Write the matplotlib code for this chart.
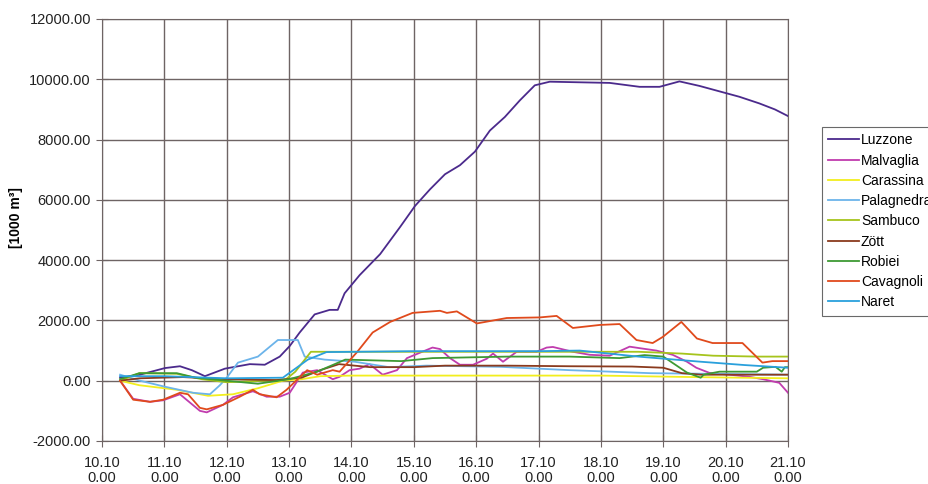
import matplotlib
matplotlib.use("Agg")
import matplotlib.pyplot as plt
import numpy as np

plt.rcParams['font.family'] = ['Liberation Sans', 'DejaVu Sans']

# ---- data (time in days since 10.10 0:00, values in 1000 m3) ----
tick_labels = ["10.10\n0.00", "11.10\n0.00", "12.10\n0.00", "13.10\n0.00", "14.10\n0.00",
               "15.10\n0.00", "16.10\n0.00", "17.10\n0.00", "18.10\n0.00", "19.10\n0.00",
               "20.10\n0.00", "21.10\n0.00"]

luzzone_t = [0.29, 0.61, 1.01, 1.25, 1.44, 1.65, 1.97, 2.37, 2.61, 2.85, 3.01, 3.17, 3.41, 3.65, 3.78,
             3.89, 4.13, 4.46, 4.78, 5.02, 5.26, 5.50, 5.74, 5.98, 6.22, 6.46, 6.70, 6.94, 7.18, 7.66,
             8.14, 8.62, 8.94, 9.26, 9.58, 9.90, 10.22, 10.54, 10.79, 11.0]
luzzone_v = [100, 200, 420, 480, 350, 150, 400, 550, 530, 800, 1150, 1600, 2200, 2350, 2350,
             2900, 3500, 4200, 5100, 5800, 6350, 6850, 7150, 7600, 8300, 8750, 9300, 9800, 9920, 9900,
             9880, 9750, 9750, 9930, 9780, 9600, 9420, 9200, 9000, 8780]

malvaglia_t = [0.29, 0.50, 0.77, 0.98, 1.25, 1.57, 1.68, 1.94, 2.10, 2.42, 2.64, 2.85, 3.01, 3.22, 3.45,
               3.70, 3.81, 3.97, 4.13, 4.29, 4.50, 4.73, 4.89, 5.10, 5.30, 5.42, 5.58, 5.74, 5.95,
               6.17, 6.27, 6.43, 6.65, 6.97, 7.13, 7.23, 7.55, 7.82, 8.14, 8.46, 8.62, 8.89, 9.15,
               9.38, 9.53, 9.74, 10.06, 10.38, 10.60, 10.86, 11.0]
malvaglia_v = [0, -600, -700, -650, -450, -1000, -1050, -800, -550, -350, -530, -530, -400, 270, 350,
               50, 130, 350, 400, 550, 200, 350, 750, 930, 1100, 1050, 750, 530, 530,
               730, 900, 630, 960, 960, 1100, 1120, 960, 860, 830, 1130, 1080, 1000, 860,
               630, 430, 260, 200, 130, 50, -70, -400]

carassina_t = [0.29, 0.6, 1.2, 1.7, 2.1, 2.5, 2.9, 3.2, 3.5, 4.0, 6.0, 8.0, 9.5, 11.0]
carassina_v = [0, -150, -300, -500, -450, -250, 0, 50, 150, 170, 170, 170, 120, 80]

palagnedra_t = [0.29, 0.61, 1.01, 1.46, 1.73, 1.89, 2.0, 2.18, 2.50, 2.82, 3.14, 3.25, 3.57, 4.05,
                4.6, 5.2, 6.4, 7.5, 8.8, 11.0]
palagnedra_v = [200, 0, -200, -400, -450, -150, 100, 600, 800, 1350, 1350, 800, 700, 630,
                450, 500, 460, 350, 250, 200]

sambuco_t = [0.29, 0.6, 1.2, 1.6, 2.0, 2.6, 2.95, 3.1, 3.35, 8.6, 9.3, 9.8, 10.5, 11.0]
sambuco_v = [0, 250, 230, 50, -50, 0, 50, 300, 960, 960, 900, 830, 800, 800]

zott_t = [0.29, 0.6, 1.3, 2.0, 2.8, 3.2, 3.5, 3.8, 4.3, 5.0, 5.5, 6.5, 7.5, 8.5, 9.0, 9.3, 9.6, 11.0]
zott_v = [0, 80, 120, 50, 20, 100, 350, 550, 450, 450, 500, 500, 480, 470, 430, 250, 200, 200]

robiei_t = [0.29, 0.6, 1.2, 1.5, 2.0, 2.5, 3.0, 3.45, 3.9, 4.8, 5.3, 6.5, 7.5, 8.3, 8.7, 9.0, 9.38,
            9.6, 9.65, 9.9, 10.5, 10.6, 10.8, 10.9, 10.95, 11.0]
robiei_v = [50, 250, 250, 100, 0, -100, 50, 300, 700, 650, 750, 800, 800, 750, 850, 800, 270,
            100, 200, 300, 300, 430, 460, 300, 450, 450]

cavagnoli_t = [0.29, 0.50, 0.77, 0.98, 1.25, 1.38, 1.57, 1.68, 1.94, 2.21, 2.42, 2.53, 2.80, 2.96,
               3.29, 3.45, 3.70, 3.81, 4.09, 4.34, 4.62, 4.98, 5.42, 5.53, 5.69, 6.01, 6.49, 7.02,
               7.29, 7.55, 7.98, 8.30, 8.57, 8.83, 8.99, 9.29, 9.54, 9.79, 10.27, 10.59, 10.75, 11.0]
cavagnoli_v = [0, -630, -700, -630, -400, -450, -900, -950, -800, -530, -300, -450, -550, -300,
               350, 200, 350, 300, 950, 1600, 1950, 2250, 2320, 2250, 2300, 1900, 2080, 2100,
               2150, 1750, 1850, 1880, 1350, 1250, 1450, 1950, 1400, 1250, 1250, 600, 650, 650]

naret_t = [0.29, 1.0, 2.0, 2.9, 3.3, 3.6, 5.0, 7.0, 7.66, 8.6, 9.6, 10.3, 11.0]
naret_v = [150, 150, 80, 100, 700, 950, 980, 980, 1000, 800, 630, 520, 430]

series = [
    ("Luzzone", luzzone_t, luzzone_v, "#4b2a8c"),
    ("Malvaglia", malvaglia_t, malvaglia_v, "#c03cae"),
    ("Carassina", carassina_t, carassina_v, "#f2ee1e"),
    ("Palagnedra", palagnedra_t, palagnedra_v, "#6cb4ea"),
    ("Sambuco", sambuco_t, sambuco_v, "#a6c41c"),
    ("Zött", zott_t, zott_v, "#8a3a1e"),
    ("Robiei", robiei_t, robiei_v, "#3e9a34"),
    ("Cavagnoli", cavagnoli_t, cavagnoli_v, "#e04a1c"),
    ("Naret", naret_t, naret_v, "#2aa0dc"),
]

fig = plt.figure(figsize=(9.29, 4.84), dpi=100)
ax = fig.add_axes([102/929, 1-441/484, (788-102)/929, (441-19)/484])

for name, t, v, c in series:
    ax.plot(t, v, color=c, lw=1.3, label=name)

gridc = "#6e6464"
ax.set_xlim(0, 11)
ax.set_ylim(-2000, 12000)
ax.set_xticks(np.arange(12))
ax.set_xticklabels(tick_labels, linespacing=1.1)
ax.set_yticks(np.arange(-2000, 12001, 2000))
ax.set_yticklabels([f"{v:.2f}" for v in np.arange(-2000, 12001, 2000)])
ax.grid(True, color=gridc, lw=1.0)
ax.set_axisbelow(True)
for s in ax.spines.values():
    s.set_color(gridc)
ax.tick_params(direction='inout', length=8, color=gridc, labelsize=10.5, labelcolor="#222222")
ax.tick_params(axis='x', pad=7)
ax.tick_params(axis='y', pad=4)
ax.set_ylabel("[1000 m³]", fontsize=10, fontweight='bold')
ax.yaxis.set_label_coords(-0.115, 0.53)

leg = fig.legend(loc='upper left', bbox_to_anchor=(822/929, 1-127/484), fontsize=10,
                 frameon=True, fancybox=False, edgecolor="#444444", handlelength=2.2,
                 handletextpad=0.15, labelspacing=0.45, borderpad=0.45, borderaxespad=0)
leg.get_frame().set_linewidth(0.8)

fig.savefig("out.png", dpi=100)
